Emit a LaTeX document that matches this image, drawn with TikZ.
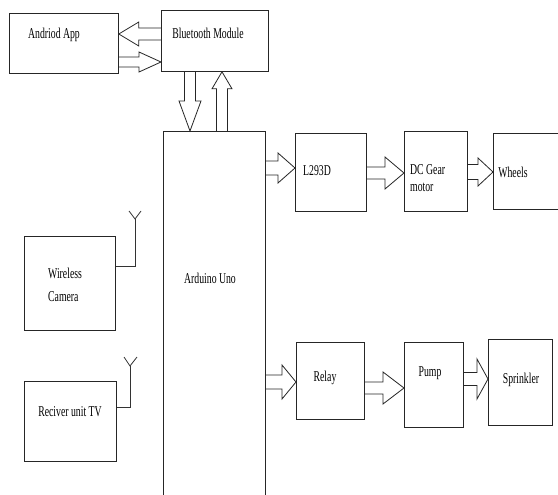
\documentclass[tikz,border=0pt]{standalone}
\usepackage{fontspec}
\setmainfont{Liberation Serif}[FakeStretch=0.65]
\usetikzlibrary{calc}
\newcommand{\blockarrow}[5]{%
  \coordinate (ba-s) at (#1);
  \coordinate (ba-e) at (#2);
  \coordinate (ba-h) at ($(ba-e)!#5!(ba-s)$);
  \draw[blk] ($(ba-s)!#3!90:(ba-e)$) -- ($(ba-h)!#3!90:(ba-e)$) -- ($(ba-h)!#4!90:(ba-e)$)
    -- (ba-e) -- ($(ba-h)!#4!-90:(ba-e)$) -- ($(ba-h)!#3!-90:(ba-e)$) -- ($(ba-s)!#3!-90:(ba-e)$);
}
\begin{document}
\begin{tikzpicture}[x=1pt,y=-1pt,
  box/.style={draw=black!85, line width=0.8pt, anchor=north west, inner sep=0pt},
  txt/.style={inner sep=0pt, font=\fontsize{15}{17}\selectfont, text=black},
  blk/.style={draw=black!85, line width=0.8pt, line join=miter},
  ant/.style={draw=black!80, line width=0.8pt}]
\clip (0,0) rectangle (558,495);
\fill[white] (0,0) rectangle (558,495);
% boxes
\node[box, minimum width=109pt, minimum height=60pt] (app) at (9,13) {};
\node[box, minimum width=107pt, minimum height=61pt] (bt) at (161,10) {};
\node[box, minimum width=102pt, minimum height=400pt] (ard) at (163,131) {};
\node[box, minimum width=71pt, minimum height=78pt] (l293) at (295,133) {};
\node[box, minimum width=63pt, minimum height=80pt] (dc) at (404,131) {};
\node[box, minimum width=75pt, minimum height=76pt] (wh) at (493,133) {};
\node[box, minimum width=68pt, minimum height=77pt] (relay) at (296,342) {};
\node[box, minimum width=59pt, minimum height=85pt] (pump) at (404,342) {};
\node[box, minimum width=64pt, minimum height=86pt] (spr) at (488,339) {};
\node[box, minimum width=91pt, minimum height=94pt] (cam) at (24,236) {};
\node[box, minimum width=92pt, minimum height=80pt] (rx) at (24,381) {};
% texts
\node[txt] (appT) at (54,35) {Andriod App};
\node[txt] (btT) at (208,33) {Bluetooth Module};
\node[txt] (ardT) at (210,278) {Arduino Uno};
\node[txt] (l293T) at (317,171) {L293D};
\node[txt, anchor=west, align=left] (dcT) at (410,178.5) {DC Gear\\motor};
\node[txt] (whT) at (513,172) {Wheels};
\node[txt] (relayT) at (325,378) {Relay};
\node[txt] (pumpT) at (430,373) {Pump};
\node[txt] (sprT) at (521,380) {Sprinkler};
\node[txt, anchor=west, align=left] (camT) at (48,284.5) {Wireless\\[6pt]Camera};
\node[txt] (rxT) at (70,412) {Reciver unit TV};
% helper coordinates for arrow lines
\coordinate (a1) at (0,34);
\coordinate (a2) at (0,62);
\coordinate (a3) at (190,0);
\coordinate (a4) at (222,0);
\coordinate (a5) at (0,168);
\coordinate (a6) at (0,173);
\coordinate (a7) at (0,172);
\coordinate (a8) at (0,382);
\coordinate (a9) at (0,388);
\coordinate (a10) at (0,379);
% block arrows
\blockarrow{bt.west |- a1}{app.east |- a1}{6pt}{12pt}{20pt}
\blockarrow{app.east |- a2}{bt.west |- a2}{5pt}{10pt}{22pt}
\blockarrow{bt.south -| a3}{ard.north -| a3}{5.5pt}{11pt}{30pt}
\blockarrow{ard.north -| a4}{bt.south -| a4}{5.5pt}{10pt}{17pt}
\blockarrow{ard.east |- a5}{l293.west |- a5}{7pt}{15pt}{17pt}
\blockarrow{l293.east |- a6}{dc.west |- a6}{6pt}{16pt}{19pt}
\blockarrow{dc.east |- a7}{wh.west |- a7}{7.5pt}{14pt}{15pt}
\blockarrow{ard.east |- a8}{relay.west |- a8}{7pt}{17pt}{14pt}
\blockarrow{relay.east |- a9}{pump.west |- a9}{6pt}{16pt}{21pt}
\blockarrow{pump.east |- a10}{spr.west |- a10}{6.5pt}{20pt}{11pt}
% antennas
\coordinate (camA) at (135,219);
\draw[ant] (cam.east |- 0,266) -| (camA);
\draw[ant] (129,211) -- (camA) -- (141,211);
\coordinate (rxA) at (130,366);
\draw[ant] (rx.east |- 0,407) -| (rxA);
\draw[ant] (124,357) -- (rxA) -- (137,357);
\end{tikzpicture}
\end{document}
